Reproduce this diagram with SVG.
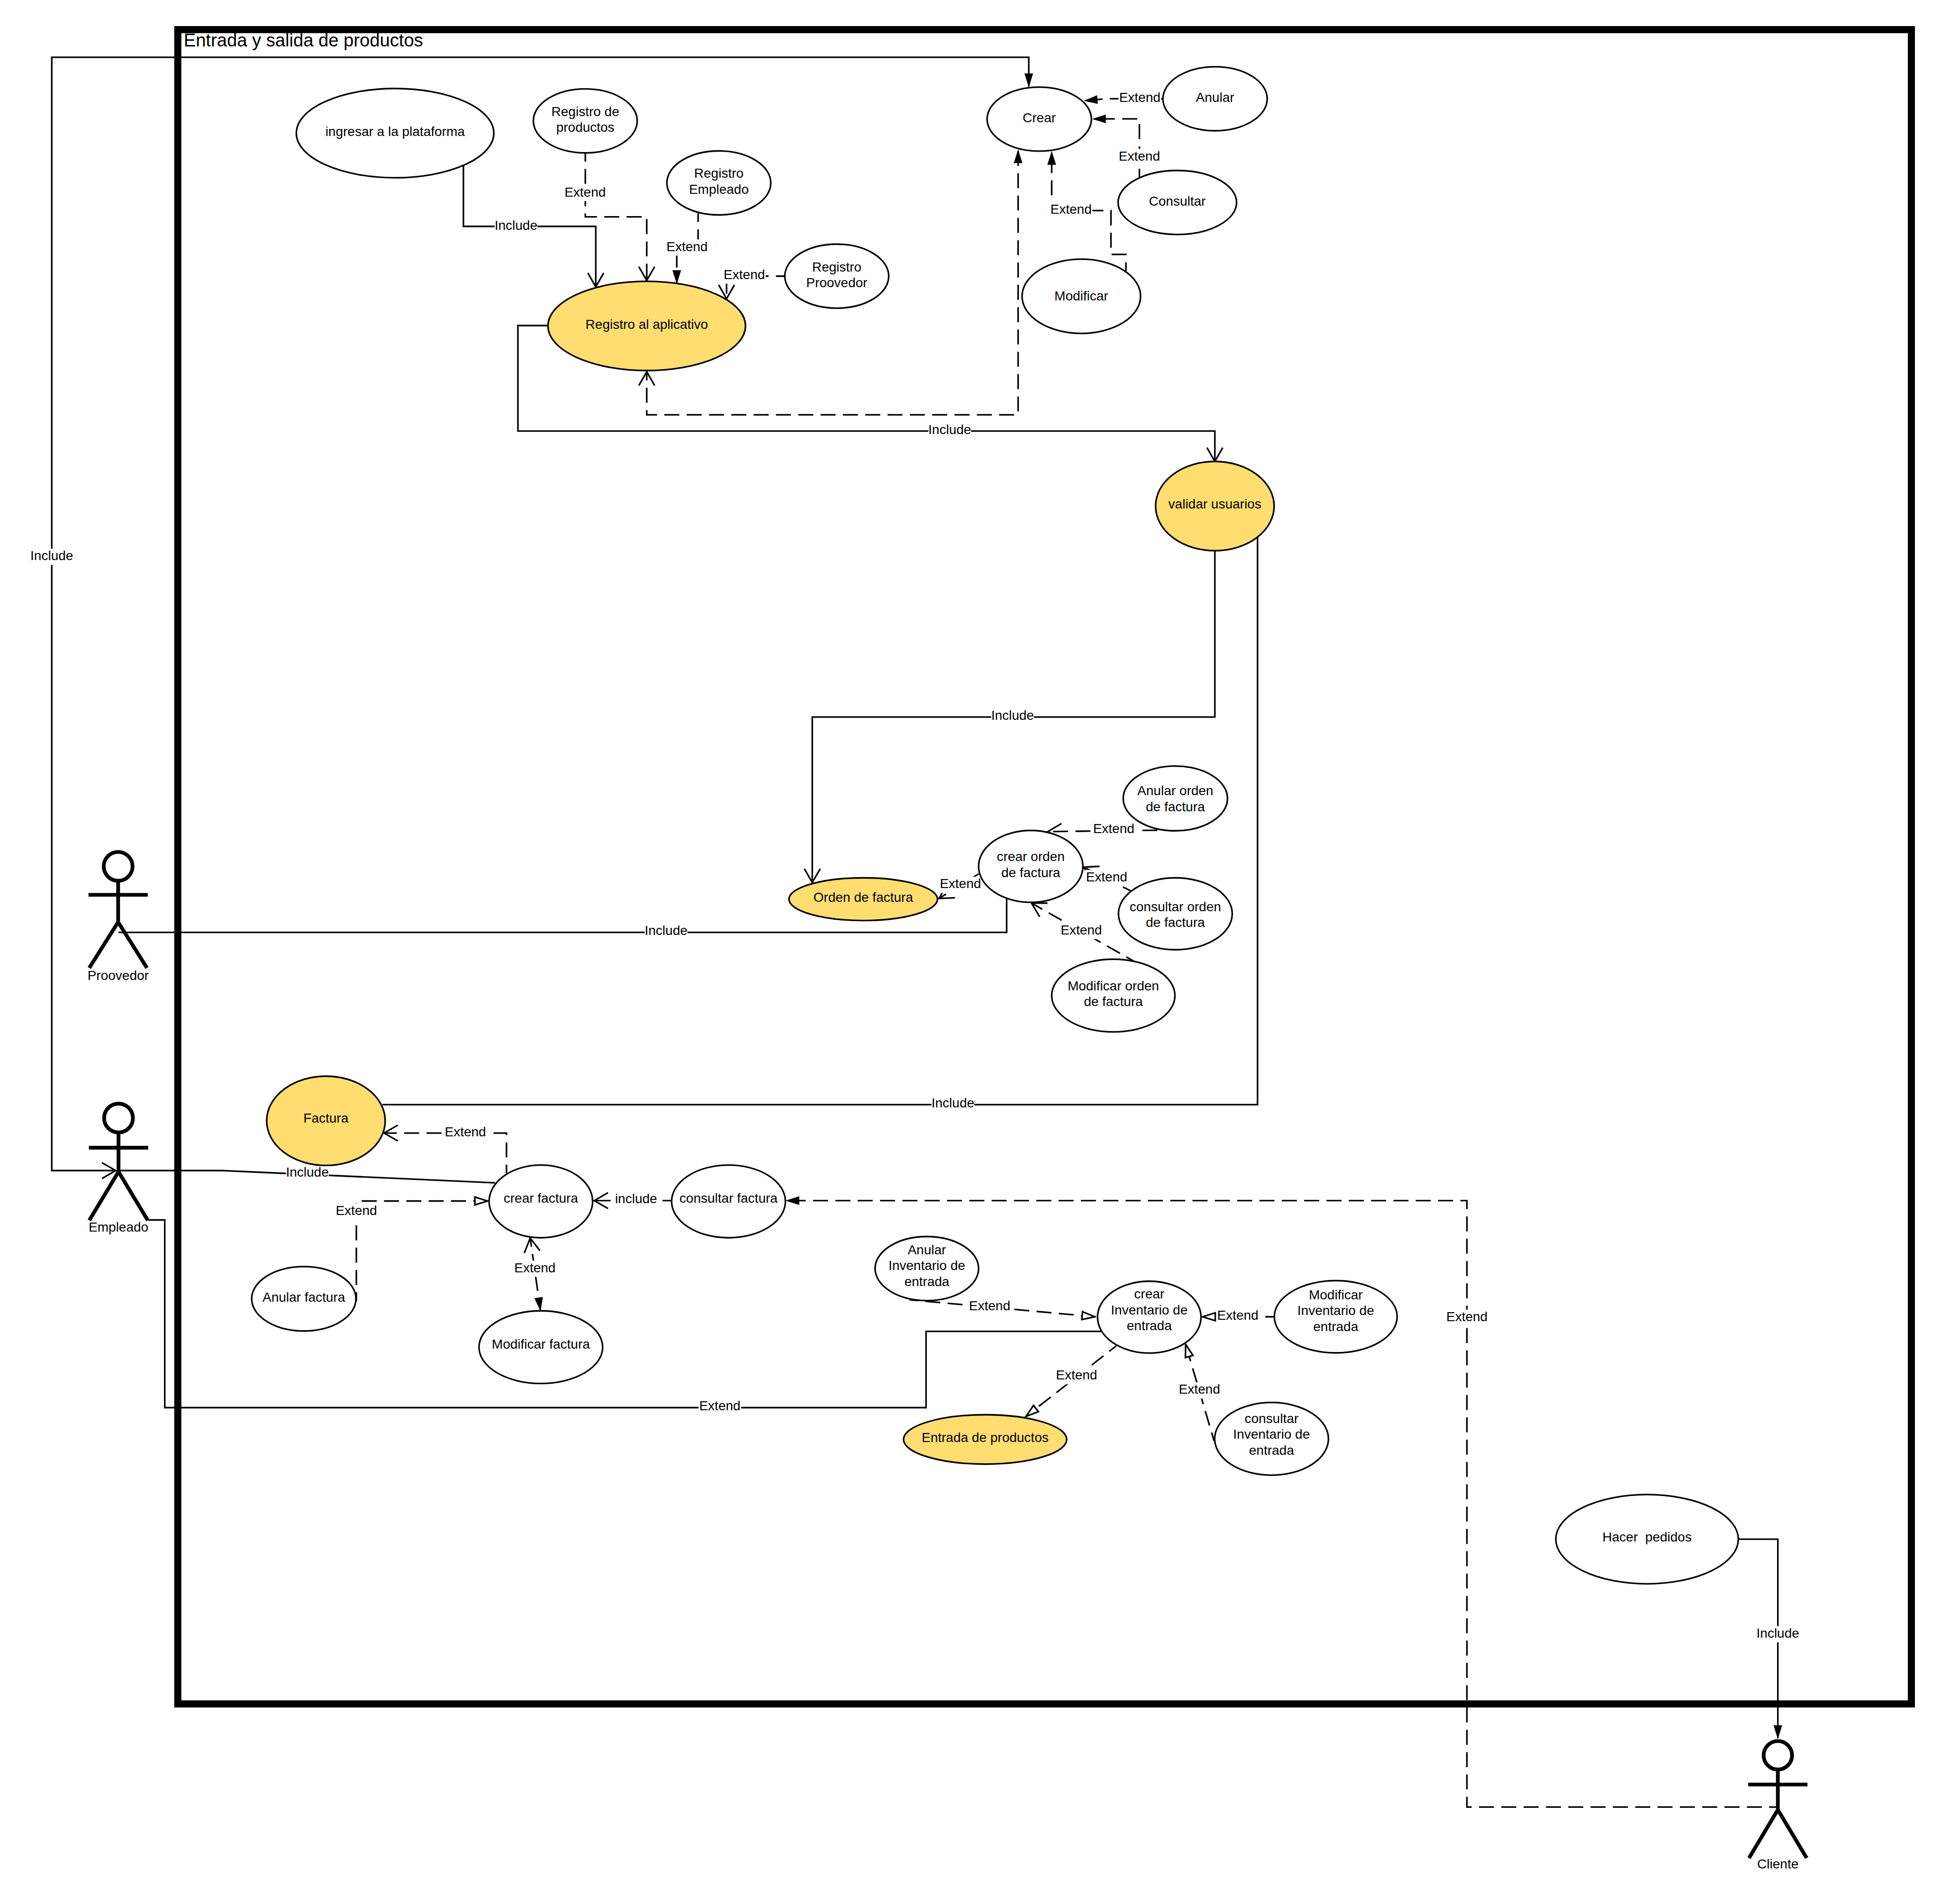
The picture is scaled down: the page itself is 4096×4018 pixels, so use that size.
<svg xmlns="http://www.w3.org/2000/svg" width="4096" height="4018" viewBox="0 0 4096 4018">
<style>
.n{fill:#fff;stroke:#000;stroke-width:4}
.y{fill:#ffdd71;stroke:#000;stroke-width:4}
.a{fill:none;stroke:#000;stroke-width:9.500}
.c{fill:none;stroke:#000;stroke-width:4}
.d{fill:none;stroke:#000;stroke-width:4;stroke-dasharray:38 18.500;stroke-dashoffset:16}
.b{fill:#fff;stroke:none}
text{font-family:"Liberation Sans",Arial,sans-serif;font-size:33.6px;fill:#000;text-anchor:middle}
</style>
<defs>
<marker id="f" markerUnits="userSpaceOnUse" viewBox="-38 -14 42 28" refX="0" refY="0" markerWidth="42" markerHeight="28" orient="auto-start-reverse"><path d="M2,0L-33,-11L-33,11Z" fill="#000"/></marker>
<marker id="o" markerUnits="userSpaceOnUse" viewBox="-40 -24 44 48" refX="0" refY="0" markerWidth="44" markerHeight="48" orient="auto-start-reverse"><path d="M-35,-20L0,0L-35,20" fill="none" stroke="#000" stroke-width="4"/></marker>
<marker id="h" markerUnits="userSpaceOnUse" viewBox="-38 -14 42 28" refX="0" refY="0" markerWidth="42" markerHeight="28" orient="auto-start-reverse"><path d="M0,0L-32,-10L-32,10Z" fill="#fff" stroke="#000" stroke-width="4"/></marker>
</defs>
<g transform="scale(0.83371)">
<rect id="frame" x="450" y="75" width="4388" height="4238" fill="none" stroke="#000" stroke-width="18"/>
<text id="frame-title" x="465" y="117" style="font-size:45.8px;text-anchor:start">Entrada y salida de productos</text>

<g id="connectors">
<path class="c" d="M293,2963H131V145H2604V219" marker-start="url(#o)" marker-end="url(#f)"/>
<path class="c" d="M1173,417V573H1508V726" marker-end="url(#o)"/>
<path class="d" d="M1481.500,387V549H1637V710" marker-end="url(#o)"/>
<path class="d" d="M1767,540V625H1713V717" marker-end="url(#f)"/>
<path class="d" d="M1986,699H1839V756" marker-end="url(#o)"/>
<path class="d" d="M1637,941V1050H2577V380" marker-start="url(#o)" marker-end="url(#f)"/>
<path class="c" d="M1387,824H1311V1091H3075V1168" marker-end="url(#o)"/>
<path class="d" d="M2944,250H2800L2745,255" marker-end="url(#f)"/>
<path class="d" d="M2884,449V301H2766" marker-end="url(#f)"/>
<path class="d" d="M2850,686V644H2812V533H2662V384" marker-end="url(#f)"/>
<path class="c" d="M3075,1394V1815H2056V2234" marker-end="url(#o)"/>
<path class="d" d="M2970,2101L2652,2105" marker-end="url(#o)"/>
<path class="d" d="M2862,2255L2743,2195" marker-end="url(#o)"/>
<path class="d" d="M2870,2433L2611,2286" marker-end="url(#o)"/>
<path class="d" d="M2477,2212L2377,2274" marker-end="url(#o)"/>
<path class="c" d="M300,2360H2548V2275"/>
<path class="c" d="M968,2796H3183V1359"/>
<path class="d" d="M1282,2970V2868H972" marker-end="url(#o)"/>
<path class="c" d="M300,2963H563L1253,2994"/>
<path class="d" d="M902,3293V3040H1234" marker-end="url(#h)"/>
<path class="d" d="M1699,3039H1504" marker-end="url(#o)"/>
<path class="d" d="M1342,3134L1368,3317" marker-start="url(#o)" marker-end="url(#f)"/>
<path class="d" d="M4500,4574H3713V3039H1990" marker-end="url(#f)"/>
<path class="c" d="M375,3088H417V3563H2344V3370H2788"/>
<path class="d" d="M2302,3290L2771,3333" marker-end="url(#h)"/>
<path class="d" d="M3225,3333H3044" marker-end="url(#h)"/>
<path class="d" d="M2825,3407L2597,3585" marker-end="url(#h)"/>
<path class="d" d="M3073,3647L3001,3403" marker-end="url(#h)"/>
<path class="c" d="M4400,3896H4500V4400" marker-end="url(#f)"/>
<g id="label-backgrounds">
<rect class="b" x="1252" y="552" width="108" height="41"/>
<rect class="b" x="2350" y="1070" width="108" height="41"/>
<rect class="b" x="2509" y="1793" width="108" height="41"/>
<rect class="b" x="1632" y="2338" width="108" height="41"/>
<rect class="b" x="2358" y="2774" width="108" height="41"/>
<rect class="b" x="724" y="2949" width="108" height="41"/>
<rect class="b" x="77" y="1389" width="108" height="41"/>
<rect class="b" x="4446" y="4116" width="108" height="41"/>
<rect class="b" x="1427" y="468" width="108" height="41"/>
<rect class="b" x="1685" y="606" width="108" height="41"/>
<rect class="b" x="1830" y="677" width="108" height="41"/>
<rect class="b" x="2831" y="228" width="108" height="41"/>
<rect class="b" x="2830" y="377" width="108" height="41"/>
<rect class="b" x="2657" y="511" width="108" height="41"/>
<rect class="b" x="2765" y="2080" width="108" height="41"/>
<rect class="b" x="2747" y="2202" width="108" height="41"/>
<rect class="b" x="2683" y="2336" width="108" height="41"/>
<rect class="b" x="2377" y="2219" width="108" height="41"/>
<rect class="b" x="1124" y="2847" width="108" height="41"/>
<rect class="b" x="848" y="3046" width="108" height="41"/>
<rect class="b" x="1556" y="3017" width="108" height="41"/>
<rect class="b" x="1300" y="3191" width="108" height="41"/>
<rect class="b" x="1768" y="3540" width="108" height="41"/>
<rect class="b" x="2451" y="3287" width="108" height="41"/>
<rect class="b" x="3079" y="3312" width="108" height="41"/>
<rect class="b" x="2671" y="3463" width="108" height="41"/>
<rect class="b" x="2982" y="3499" width="108" height="41"/>
<rect class="b" x="3659" y="3315" width="108" height="41"/>
</g>
</g>

<g id="ingresar"><ellipse class="n" cx="1000" cy="337" rx="250" ry="113"/><text x="1000" y="344">ingresar a la plataforma</text></g>
<g id="registro-productos"><ellipse class="n" cx="1481.500" cy="306" rx="131.500" ry="81"/><text x="1481.500" y="294">Registro de</text><text x="1481.500" y="334">productos</text></g>
<g id="registro-empleado"><ellipse class="n" cx="1819.500" cy="463" rx="131.500" ry="81"/><text x="1819.500" y="450">Registro</text><text x="1819.500" y="491">Empleado</text></g>
<g id="registro-proovedor"><ellipse class="n" cx="2118" cy="699" rx="131.500" ry="81"/><text x="2118" y="687">Registro</text><text x="2118" y="727">Proovedor</text></g>
<g id="registro-aplicativo"><ellipse class="y" cx="1637" cy="825" rx="250" ry="113"/><text x="1637" y="832">Registro al aplicativo</text></g>
<g id="crear"><ellipse class="n" cx="2630.500" cy="301.500" rx="132" ry="81"/><text x="2630.500" y="309">Crear</text></g>
<g id="anular"><ellipse class="n" cx="3075.500" cy="250" rx="132" ry="81"/><text x="3075.500" y="258">Anular</text></g>
<g id="consultar"><ellipse class="n" cx="2980" cy="512.500" rx="150" ry="81"/><text x="2980" y="520">Consultar</text></g>
<g id="modificar"><ellipse class="n" cx="2737" cy="750" rx="150" ry="94"/><text x="2737" y="760">Modificar</text></g>
<g id="validar-usuarios"><ellipse class="y" cx="3075" cy="1281" rx="150" ry="113"/><text x="3075" y="1287">validar usuarios</text></g>
<g id="anular-orden"><ellipse class="n" cx="2975" cy="2021" rx="132" ry="82"/><text x="2975" y="2013">Anular orden</text><text x="2975" y="2053">de factura</text></g>
<g id="crear-orden"><ellipse class="n" cx="2609" cy="2193" rx="132" ry="91"/><text x="2609" y="2180">crear orden</text><text x="2609" y="2220">de factura</text></g>
<g id="consultar-orden"><ellipse class="n" cx="2975" cy="2313" rx="144" ry="91"/><text x="2975" y="2306">consultar orden</text><text x="2975" y="2346">de factura</text></g>
<g id="modificar-orden"><ellipse class="n" cx="2818" cy="2520" rx="156" ry="92"/><text x="2818" y="2507">Modificar orden</text><text x="2818" y="2547">de factura</text></g>
<g id="orden-factura"><ellipse class="y" cx="2185" cy="2276" rx="188" ry="54"/><text x="2185" y="2283">Orden de factura</text></g>
<g id="factura"><ellipse class="y" cx="825" cy="2837" rx="150" ry="113"/><text x="825" y="2842">Factura</text></g>
<g id="crear-factura"><ellipse class="n" cx="1369" cy="3041" rx="131" ry="92"/><text x="1369" y="3044">crear factura</text></g>
<g id="consultar-factura"><ellipse class="n" cx="1844" cy="3041" rx="144" ry="92"/><text x="1844" y="3044">consultar factura</text></g>
<g id="modificar-factura"><ellipse class="n" cx="1369" cy="3410" rx="156.500" ry="92"/><text x="1369" y="3414">Modificar factura</text></g>
<g id="anular-factura"><ellipse class="n" cx="769" cy="3287.500" rx="132" ry="81.500"/><text x="769" y="3295">Anular factura</text></g>
<g id="anular-inventario"><ellipse class="n" cx="2346" cy="3211" rx="131" ry="81"/><text x="2346" y="3175">Anular</text><text x="2346" y="3215">Inventario de</text><text x="2346" y="3255">entrada</text></g>
<g id="crear-inventario"><ellipse class="n" cx="2909" cy="3334" rx="131" ry="91"/><text x="2909" y="3287">crear</text><text x="2909" y="3327">Inventario de</text><text x="2909" y="3367">entrada</text></g>
<g id="modificar-inventario"><ellipse class="n" cx="3381" cy="3333" rx="155.500" ry="91.500"/><text x="3381" y="3289">Modificar</text><text x="3381" y="3329">Inventario de</text><text x="3381" y="3369">entrada</text></g>
<g id="consultar-inventario"><ellipse class="n" cx="3218.500" cy="3642" rx="144" ry="92"/><text x="3218.500" y="3602">consultar</text><text x="3218.500" y="3642">Inventario de</text><text x="3218.500" y="3682">entrada</text></g>
<g id="entrada-productos"><ellipse class="y" cx="2493.500" cy="3643.500" rx="206.500" ry="62.500"/><text x="2493.500" y="3650">Entrada de productos</text></g>
<g id="hacer-pedidos"><ellipse class="n" cx="4169" cy="3896" rx="231" ry="113"/><text x="4169" y="3902" xml:space="preserve">Hacer  pedidos</text></g>

<g id="actor-proovedor"><ellipse class="a" cx="299" cy="2193" rx="36.500" ry="36.500"/><path class="a" d="M299,2230V2334M224,2265H374M226,2450L299,2334L372,2450"/><text x="299" y="2480">Proovedor</text></g>
<g id="actor-empleado"><ellipse class="a" cx="300" cy="2830" rx="36.500" ry="36.500"/><path class="a" d="M300,2867V2966M225,2905H375M226,3089L300,2966L374,3089"/><text x="300" y="3117">Empleado</text></g>
<g id="actor-cliente"><ellipse class="a" cx="4500" cy="4443" rx="36" ry="36"/><path class="a" d="M4500,4479V4581M4425,4517H4575M4427,4703L4500,4581L4573,4703"/><text x="4500" y="4729">Cliente</text></g>

<g id="connector-labels">
<text x="1306" y="582">Include</text>
<text x="2404" y="1099">Include</text>
<text x="2563" y="1822">Include</text>
<text x="1686" y="2367">Include</text>
<text x="2412" y="2803">Include</text>
<text x="778" y="2978">Include</text>
<text x="131" y="1418">Include</text>
<text x="4500" y="4145">Include</text>
<text x="1481" y="498">Extend</text>
<text x="1739" y="636">Extend</text>
<text x="1884" y="707">Extend</text>
<text x="2885" y="258">Extend</text>
<text x="2884" y="407">Extend</text>
<text x="2711" y="541">Extend</text>
<text x="2819" y="2109">Extend</text>
<text x="2801" y="2231">Extend</text>
<text x="2737" y="2365">Extend</text>
<text x="2431" y="2248">Extend</text>
<text x="1178" y="2876">Extend</text>
<text x="902" y="3075">Extend</text>
<text x="1610" y="3046">include</text>
<text x="1354" y="3220">Extend</text>
<text x="1822" y="3569">Extend</text>
<text x="2505" y="3316">Extend</text>
<text x="3133" y="3341">Extend</text>
<text x="2725" y="3492">Extend</text>
<text x="3036" y="3528">Extend</text>
<text x="3713" y="3344">Extend</text>
</g>
</g>
</svg>
